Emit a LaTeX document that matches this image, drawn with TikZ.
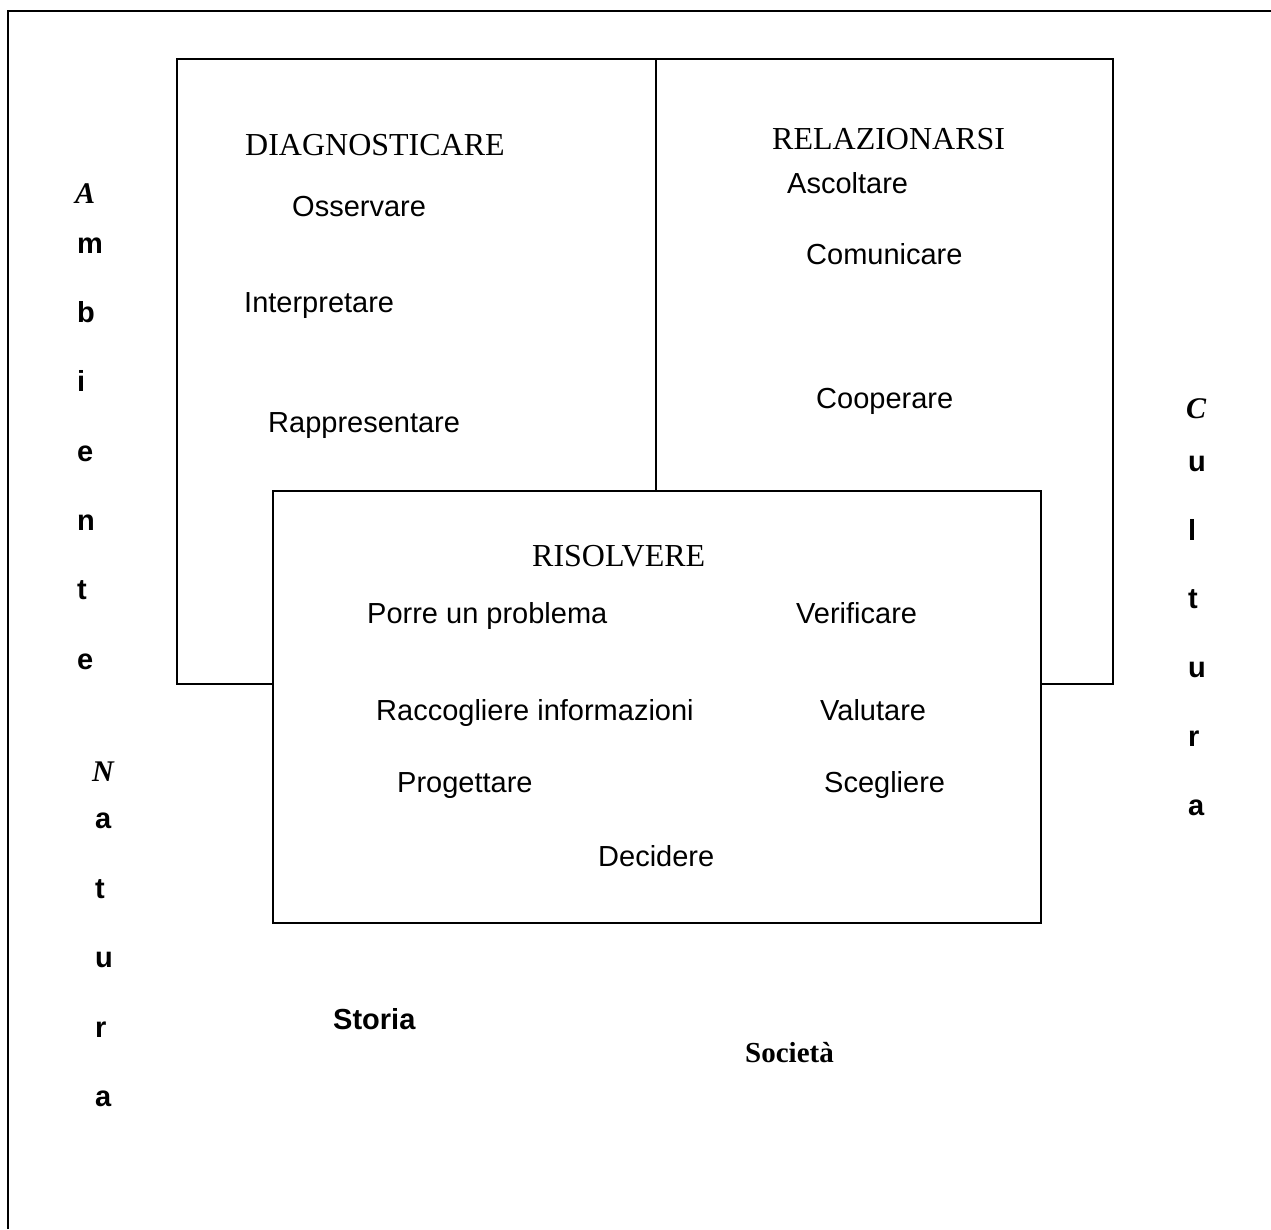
\documentclass[tikz,border=0pt]{standalone}
\usepackage{fontspec}
\setmainfont{Liberation Serif}
\newfontfamily\arialfont{Liberation Sans}
\begin{document}
\begin{tikzpicture}[x=1pt,y=-1pt,
  frame/.style={draw=black,line width=2pt},
  verb/.style={anchor=base west,inner sep=0pt,font=\arialfont\fontsize{29}{34}\selectfont},
  head/.style={anchor=base west,inner sep=0pt,font=\fontsize{32}{38}\selectfont},
  vcap/.style={anchor=base west,inner sep=0pt,font=\bfseries\itshape\fontsize{30}{36}\selectfont},
  vlet/.style={anchor=base west,inner sep=0pt,font=\arialfont\bfseries\fontsize{29}{34}\selectfont}]
\useasboundingbox (0,0) rectangle (1271,1229);
\fill[white] (0,0) rectangle (1271,1229);
% outer frame (top and left)
\draw[frame] (8,1229) -- (8,11) -- (1271,11);
% back boxes
\draw[frame] (177,59) rectangle (656,684);
\draw[frame] (656,59) rectangle (1113,684);
% front box
\draw[frame,fill=white] (273,491) rectangle (1041,923);
% DIAGNOSTICARE
\node[head] (diag) at (245,155.5) {DIAGNOSTICARE};
\node[verb] (oss) at (292,216) {Osservare};
\node[verb] (int) at (244,312) {Interpretare};
\node[verb] (rap) at (268,432) {Rappresentare};
% RELAZIONARSI
\node[head] (rel) at (772,149.5) {RELAZIONARSI};
\node[verb] (asc) at (787,193) {Ascoltare};
\node[verb] (com) at (806,264) {Comunicare};
\node[verb] (coo) at (816,408) {Cooperare};
% RISOLVERE
\node[head] (ris) at (532,566) {RISOLVERE};
\node[verb] (por) at (367,623) {Porre un problema};
\node[verb] (ver) at (796,623) {Verificare};
\node[verb] (rac) at (376,720) {Raccogliere informazioni};
\node[verb] (val) at (820,720) {Valutare};
\node[verb] (pro) at (397,792) {Progettare};
\node[verb] (sce) at (824,792) {Scegliere};
\node[verb] (dec) at (598,866) {Decidere};
% bottom labels
\node[vlet] (sto) at (333,1029) {Storia};
\node[anchor=base west,inner sep=0pt,font=\bfseries\fontsize{29}{34}\selectfont] (soc) at (745,1062) {Società};
% Ambiente
\node[vcap] (a1) at (75,203) {A};
\node[vlet] (a2) at (77,253) {m};
\node[vlet] (a3) at (77,322) {b};
\node[vlet] (a4) at (77,391) {i};
\node[vlet] (a5) at (77,461) {e};
\node[vlet] (a6) at (77,530) {n};
\node[vlet] (a7) at (77,599) {t};
\node[vlet] (a8) at (77,669) {e};
% Natura
\node[vcap] (n1) at (92,781) {N};
\node[vlet] (n2) at (95,828) {a};
\node[vlet] (n3) at (95,898) {t};
\node[vlet] (n4) at (95,967) {u};
\node[vlet] (n5) at (95,1037) {r};
\node[vlet] (n6) at (95,1106) {a};
% Cultura
\node[vcap] (c1) at (1186,418) {C};
\node[vlet] (c2) at (1188,471) {u};
\node[vlet] (c3) at (1188,540) {l};
\node[vlet] (c4) at (1188,608) {t};
\node[vlet] (c5) at (1188,677) {u};
\node[vlet] (c6) at (1188,746) {r};
\node[vlet] (c7) at (1188,815) {a};
\end{tikzpicture}
\end{document}
